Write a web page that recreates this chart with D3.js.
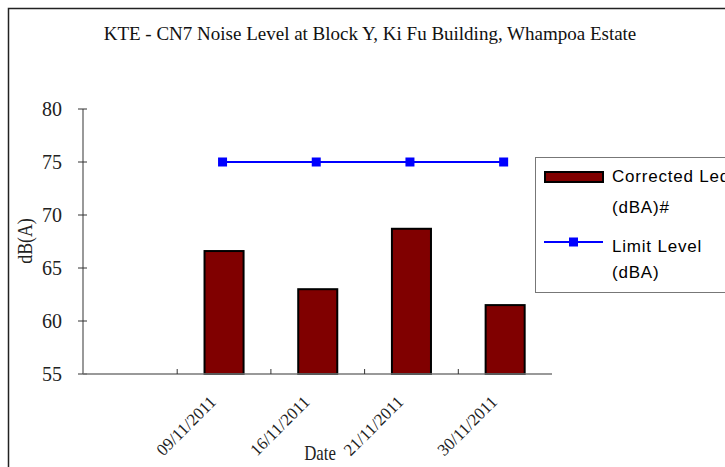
<!DOCTYPE html>
<html>
<head>
<meta charset="utf-8">
<script src="https://cdn.jsdelivr.net/npm/d3@7"></script>
<style>
  body { margin: 0; background: #fff; }
  svg { display: block; }
</style>
</head>
<body>
<div id="chart"></div>
<script>
const categories = ["", "09/11/2011", "16/11/2011", "21/11/2011", "30/11/2011"];
const corrected = [null, 66.6, 63.0, 68.7, 61.5];
const limit = [null, 75, 75, 75, 75];
const yTicks = [55, 60, 65, 70, 75, 80];

const width = 725;
const height = 467;
const serif = "'Liberation Serif', 'Times New Roman', serif";
const sans = "'Liberation Sans', Arial, sans-serif";

const svg = d3.select("#chart")
  .append("svg")
  .attr("width", width)
  .attr("height", height);

// outer chart border
svg.append("rect")
  .attr("x", 8.5).attr("y", 8.5)
  .attr("width", width + 20).attr("height", height + 20)
  .attr("fill", "#fff")
  .attr("stroke", "#222")
  .attr("stroke-width", 1.5);

const x = d3.scaleBand().domain(categories.map((d, i) => i)).range([83.5, 552]);
const y = d3.scaleLinear().domain([55, 80]).range([374, 109]);

// title
svg.append("text")
  .attr("x", 370).attr("y", 40)
  .attr("text-anchor", "middle")
  .attr("font-family", serif)
  .attr("font-size", "19px")
  .attr("fill", "#111")
  .text("KTE - CN7 Noise Level at Block Y, Ki Fu Building, Whampoa Estate");

// bars
const barW = x.bandwidth() / 2.4;
svg.append("g")
  .selectAll("rect")
  .data(corrected.map((v, i) => ({ v, i })).filter((d) => d.v != null))
  .join("rect")
  .attr("x", (d) => x(d.i) + x.bandwidth() / 2 - barW / 2)
  .attr("y", (d) => y(d.v))
  .attr("width", barW)
  .attr("height", (d) => y(55) - y(d.v))
  .attr("fill", "#800000")
  .attr("stroke", "#000")
  .attr("stroke-width", 2);

// y axis
const yAxis = svg.append("g").attr("transform", "translate(83,0)");
yAxis.append("line")
  .attr("y1", y(80)).attr("y2", y(55))
  .attr("stroke", "#555").attr("stroke-width", 1.2);
yAxis.selectAll("line.tick")
  .data(yTicks)
  .join("line")
  .attr("class", "tick")
  .attr("x1", -5).attr("x2", 4)
  .attr("y1", (d) => y(d)).attr("y2", (d) => y(d))
  .attr("stroke", "#333");
yAxis.selectAll("text")
  .data(yTicks)
  .join("text")
  .attr("x", -21)
  .attr("y", (d) => y(d) + 7)
  .attr("text-anchor", "end")
  .attr("font-family", serif)
  .attr("font-size", "20px")
  .attr("fill", "#222")
  .text((d) => d);

// x axis
svg.append("line")
  .attr("x1", 83).attr("x2", 552)
  .attr("y1", y(55)).attr("y2", y(55))
  .attr("stroke", "#777").attr("stroke-width", 1.5);
svg.append("g")
  .selectAll("line")
  .data(categories.slice(1))
  .join("line")
  .attr("x1", (d, i) => x(i + 1)).attr("x2", (d, i) => x(i + 1))
  .attr("y1", y(55) - 5).attr("y2", y(55))
  .attr("stroke", "#333");
svg.append("g")
  .selectAll("text")
  .data(categories)
  .join("text")
  .attr("transform", (d, i) =>
    `translate(${x(i) + x.bandwidth() / 2 - 7},${y(55) + 29}) rotate(-45)`)
  .attr("text-anchor", "end")
  .attr("font-family", serif)
  .attr("font-size", "17px")
  .attr("fill", "#222")
  .text((d) => d);

// axis titles
svg.append("text")
  .attr("transform", `translate(32,241) rotate(-90) scale(0.85,1)`)
  .attr("text-anchor", "middle")
  .attr("font-family", serif)
  .attr("font-size", "21px")
  .attr("fill", "#222")
  .text("dB(A)");
svg.append("text")
  .attr("transform", `translate(320,460) scale(0.8,1)`)
  .attr("text-anchor", "middle")
  .attr("font-family", serif)
  .attr("font-size", "21px")
  .attr("fill", "#222")
  .text("Date");

// limit line
const limitPts = limit.map((v, i) => ({ v, i })).filter((d) => d.v != null);
const lx = (d) => x(d.i) + x.bandwidth() / 2 - 1.5;
svg.append("path")
  .datum(limitPts)
  .attr("d", d3.line().x(lx).y((d) => y(d.v)))
  .attr("fill", "none")
  .attr("stroke", "#0000ff")
  .attr("stroke-width", 2);
svg.append("g")
  .selectAll("rect")
  .data(limitPts)
  .join("rect")
  .attr("x", (d) => lx(d) - 4.5)
  .attr("y", (d) => y(d.v) - 4.5)
  .attr("width", 9).attr("height", 9)
  .attr("fill", "#0000ff");

// legend
const legend = svg.append("g").attr("transform", "translate(535,157)");
legend.append("rect")
  .attr("x", 0.5).attr("y", 0.5)
  .attr("width", 220).attr("height", 135)
  .attr("fill", "#fff")
  .attr("stroke", "#777");
legend.append("rect")
  .attr("x", 10).attr("y", 15)
  .attr("width", 58).attr("height", 10)
  .attr("fill", "#800000")
  .attr("stroke", "#000")
  .attr("stroke-width", 2);
legend.append("line")
  .attr("x1", 9).attr("x2", 68)
  .attr("y1", 85).attr("y2", 85)
  .attr("stroke", "#0000ff").attr("stroke-width", 2);
legend.append("rect")
  .attr("x", 34).attr("y", 80.5)
  .attr("width", 9).attr("height", 9)
  .attr("fill", "#0000ff");
const legendLines = [
  ["Corrected Leq", 25],
  ["(dBA)#", 56],
  ["Limit Level", 95],
  ["(dBA)", 121]
];
legend.selectAll("text")
  .data(legendLines)
  .join("text")
  .attr("x", 77)
  .attr("y", (d) => d[1])
  .attr("font-family", sans)
  .attr("font-size", "17px")
  .attr("letter-spacing", "0.8px")
  .attr("fill", "#000")
  .text((d) => d[0]);
</script>
</body>
</html>
